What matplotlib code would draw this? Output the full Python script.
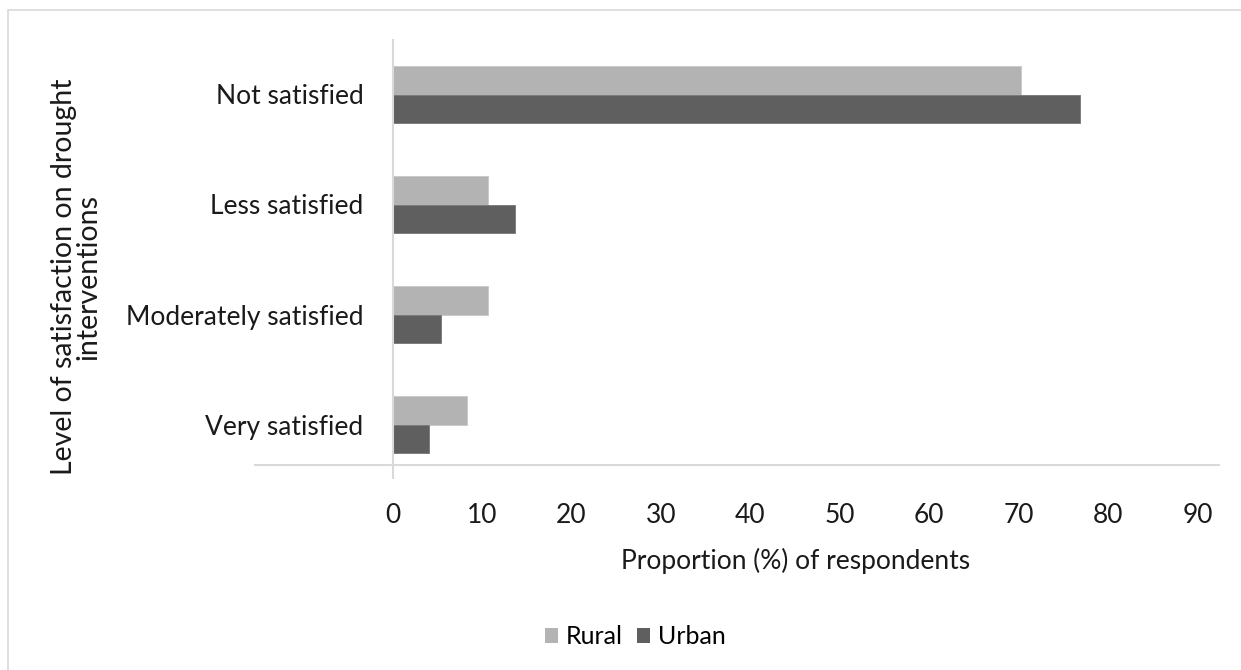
import matplotlib
matplotlib.use("Agg")
import matplotlib.pyplot as plt
from matplotlib.lines import Line2D
from matplotlib.patches import Rectangle, Patch
import numpy as np

plt.rcParams['font.family'] = ['Lato', 'DejaVu Sans']

categories = ["Not satisfied", "Less satisfied", "Moderately satisfied", "Very satisfied"]
rural = [70.3, 10.7, 10.7, 8.3]
urban = [76.9, 13.7, 5.4, 4.1]
x_ticks = [0, 10, 20, 30, 40, 50, 60, 70, 80, 90]

RURAL_COLOR = "#b3b3b3"
URBAN_COLOR = "#5f5f5f"
AXIS_COLOR = "#d9d9d9"
TEXT_COLOR = "#1a1a1a"
FS = 19

W, H = 1241, 670
fig = plt.figure(figsize=(W / 100, H / 100), dpi=100)

def fx(px):
    return px / W

def fy(py):
    return 1 - py / H

ax_left, ax_right = 392.7, 1197.5
ax_top, ax_bottom = 39.5, 479.5
ax = fig.add_axes([fx(ax_left), fy(ax_bottom), fx(ax_right - ax_left), (ax_bottom - ax_top) / H])

n = len(categories)
ypos = np.arange(n)[::-1]  # first category at top
bar_h = 0.2636
ax.barh(ypos + bar_h / 2, rural, height=bar_h, color=RURAL_COLOR,
        edgecolor="#c8c8c8", linewidth=0.6, label="Rural")
ax.barh(ypos - bar_h / 2, urban, height=bar_h, color=URBAN_COLOR,
        edgecolor="#777777", linewidth=0.6, label="Urban")

ax.set_xlim(0, 90)
ax.set_ylim(-0.5, n - 0.5)
ax.set_yticks(ypos)
ax.set_yticklabels(categories, fontsize=FS, color=TEXT_COLOR)
ax.set_xticks(x_ticks)
ax.set_xticklabels([str(t) for t in x_ticks], fontsize=FS, color=TEXT_COLOR)
ax.tick_params(axis="y", length=0, pad=21)
ax.tick_params(axis="x", length=0, pad=17)

for side in ["top", "right", "bottom"]:
    ax.spines[side].set_visible(False)
ax.spines["left"].set_color(AXIS_COLOR)
ax.spines["left"].set_linewidth(1.5)
ax.spines["left"].set_bounds(-0.5 + (479.5 - 478) / 110, n - 0.5)

# horizontal baseline across the plot
fig.add_artist(Line2D([fx(255), fx(1219)], [fy(465), fy(465)],
                      color=AXIS_COLOR, linewidth=1.5))

fig.text(fx((ax_left + ax_right) / 2), fy(561), "Proportion (%) of respondents",
         ha="center", va="center", fontsize=FS, color=TEXT_COLOR)
fig.text(fx(76), fy(277), "Level of satisfaction on drought\ninterventions",
         rotation=90, ha="center", va="center", multialignment="center",
         fontsize=20.5, color=TEXT_COLOR, linespacing=0.95)

handles = [Patch(facecolor=RURAL_COLOR, edgecolor="none", label="Rural"),
           Patch(facecolor=URBAN_COLOR, edgecolor="none", label="Urban")]
fig.legend(handles=handles, loc="center", bbox_to_anchor=(fx(635), fy(637)),
           ncol=2, frameon=False, fontsize=18, handlelength=0.55, handleheight=0.55,
           handletextpad=0.3, columnspacing=0.55)

# outer frame
fig.add_artist(Rectangle((fx(7.5), fy(1000)), 2, fy(10) - fy(1000), fill=False,
                         edgecolor=AXIS_COLOR, linewidth=1.2, transform=fig.transFigure))

fig.savefig("out.png", dpi=100, facecolor="white")
